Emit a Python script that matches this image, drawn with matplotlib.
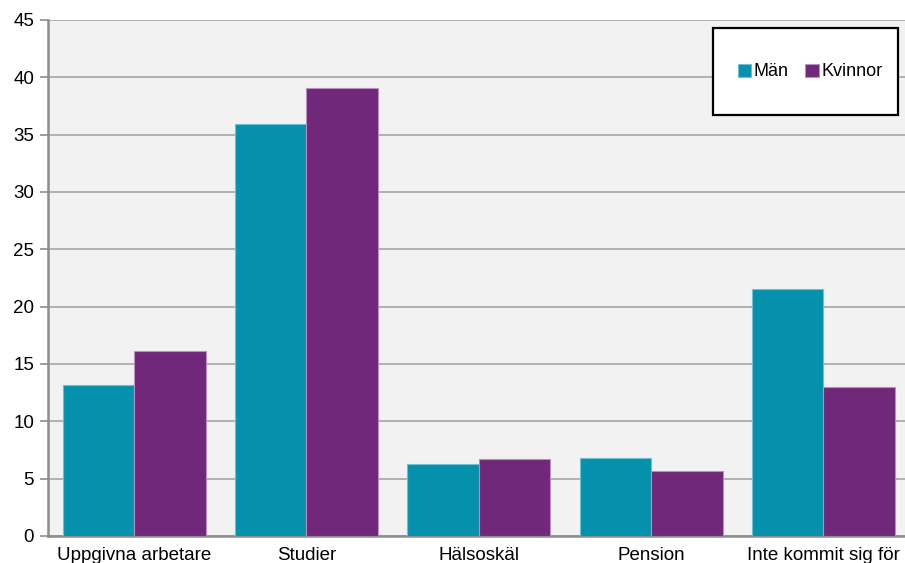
import matplotlib
matplotlib.use("Agg")
import matplotlib.pyplot as plt
from matplotlib.patches import Rectangle
import numpy as np

plt.rcParams['font.family'] = ['Liberation Sans', 'DejaVu Sans']

categories = ["Uppgivna arbetare", "Studier", "Hälsoskäl", "Pension", "Inte kommit sig för"]
man = [13.2, 35.9, 6.3, 6.8, 21.5]
kvinnor = [16.1, 39.1, 6.7, 5.7, 13.0]
yticks = [0, 5, 10, 15, 20, 25, 30, 35, 40, 45]

FS = 13.5
fig = plt.figure(figsize=(9.05, 5.63), dpi=100)
ax = fig.add_axes([48/905, 1 - 536/563, 861.5/905, 516/563])
ax.set_facecolor('#f2f2f2')

x = np.arange(len(categories))
w = 0.415
ax.bar(x - w/2, man, w, color='#0591ab', edgecolor='#6cc0d0', linewidth=0.8, label='Män', zorder=3)
ax.bar(x + w/2, kvinnor, w, color='#71287a', edgecolor='#b88fc0', linewidth=0.8, label='Kvinnor', zorder=3)

ax.set_xlim(-0.5, 4.5)
ax.set_ylim(0, 45)
ax.set_yticks(yticks)
ax.yaxis.grid(True, color='#a6a6a6', linewidth=1.2, zorder=0)
ax.set_xticks(x)
ax.set_xticklabels(categories, fontsize=FS)
ax.tick_params(axis='y', labelsize=FS, length=6, color='#8c8c8c', width=1.2, pad=4)
ax.tick_params(axis='x', length=0, pad=8)
for s in ['top', 'right']:
    ax.spines[s].set_visible(False)
ax.spines['left'].set_color('#8c8c8c')
ax.spines['left'].set_linewidth(1.8)
ax.spines['bottom'].set_color('#8c8c8c')
ax.spines['bottom'].set_linewidth(1.8)

# legend box
box = Rectangle((713/905, 1 - 115/563), 185/905, 87/563, transform=fig.transFigure,
                facecolor='white', edgecolor='black', linewidth=1.6, zorder=5)
fig.add_artist(box)
leg = fig.legend(*ax.get_legend_handles_labels(), loc='center', bbox_to_anchor=(810/905, 1 - 72/563),
                 ncol=2, fontsize=13, frameon=False, handlelength=0.75, handleheight=0.75,
                 handletextpad=0.15, columnspacing=0.9, borderpad=0)
leg.set_zorder(6)

fig.savefig('out.png', dpi=100)
